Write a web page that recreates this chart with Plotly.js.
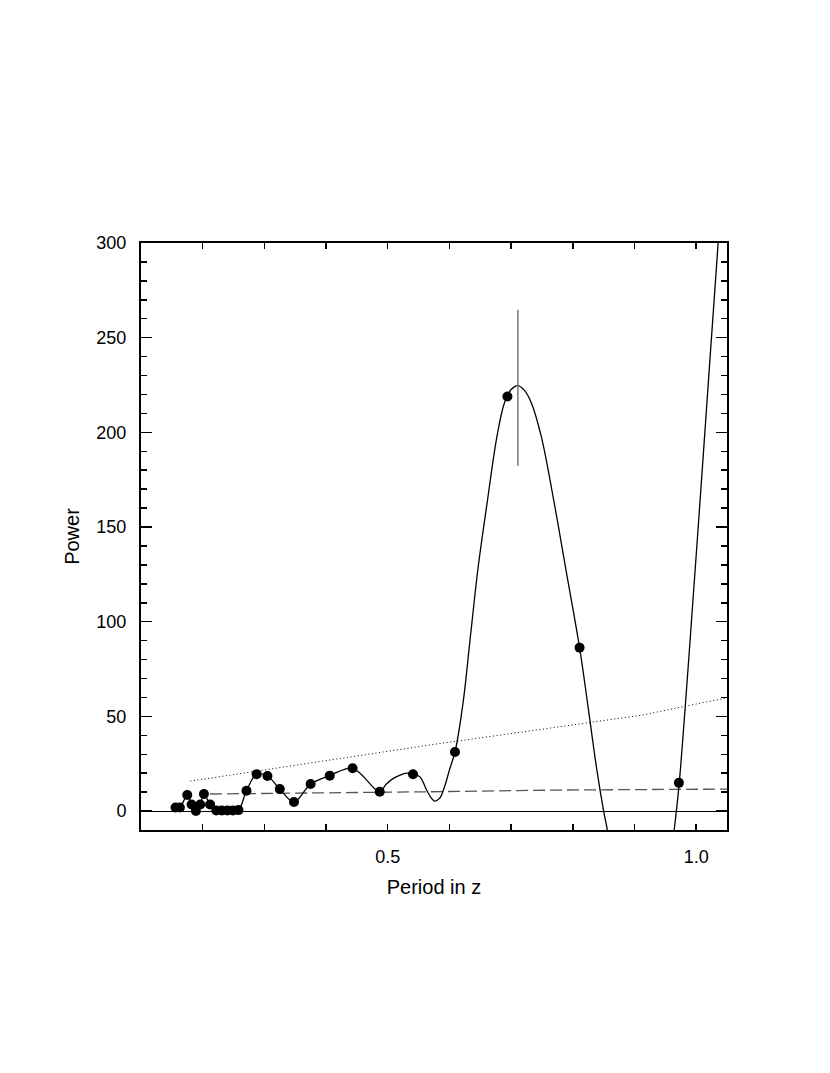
<!DOCTYPE html>
<html>
<head>
<meta charset="utf-8">
<script src="https://cdn.plot.ly/plotly-3.0.1.min.js"></script>
<style>html,body{margin:0;padding:0;background:#fff;}#chart{width:830px;height:1073px;}</style>
</head>
<body>
<div id="chart"></div>
<script>
// Data points (period in z, power)
const pointPeriod = [0.156, 0.163, 0.175, 0.182, 0.189, 0.196, 0.202, 0.212, 0.222, 0.231, 0.240, 0.249, 0.258,
  0.271, 0.2875, 0.305, 0.325, 0.348, 0.375, 0.406, 0.443, 0.487, 0.541, 0.609, 0.694, 0.811, 0.972];
const pointPower = [1.85, 1.85, 8.45, 3.43, 0.0, 3.43, 8.98, 3.43, 0.3, 0.3, 0.3, 0.3, 0.5,
  10.7, 19.5, 18.5, 11.6, 4.75, 14.3, 18.7, 22.6, 10.2, 19.4, 31.2, 218.9, 86.3, 14.9];

// Interpolating curve
const curvePeriod = [0.156, 0.163, 0.175, 0.182, 0.189, 0.196, 0.202, 0.212, 0.222, 0.231, 0.240, 0.249, 0.258,
  0.271, 0.2875, 0.305, 0.325, 0.348, 0.375, 0.406, 0.443, 0.487, 0.497, 0.508, 0.520, 0.531, 0.541,
  0.552, 0.563, 0.571, 0.576, 0.584, 0.592, 0.600, 0.609,
  0.622, 0.634, 0.646, 0.661, 0.677, 0.689, 0.700, 0.711, 0.722, 0.733, 0.749, 0.770, 0.789, 0.811, 0.824, 0.839, 0.850,
  0.856, 0.880, 0.910, 0.940, 0.9644, 0.9725, 0.9995, 1.0238, 1.0356, 1.050];
const curvePower = [1.85, 1.85, 8.45, 3.43, 0.0, 3.43, 8.98, 3.43, 0.3, 0.3, 0.3, 0.3, 0.5,
  10.7, 19.5, 18.5, 11.6, 4.75, 14.3, 18.7, 22.6, 10.2, 14.0, 17.0, 19.0, 20.0, 19.4,
  18.1, 11.1, 6.7, 5.3, 6.7, 12.8, 21.7, 31.2,
  56.9, 92.1, 127.3, 162.5, 197.7, 215.4, 222.6, 224.7, 222.0, 215.4, 197.7, 162.5, 127.3, 86.3, 56.9, 21.7, 0.0,
  -10, -60, -100, -70, -10, 14.6, 132.6, 245.3, 300, 370];

// Dotted threshold line
const dotPeriod = [0.180, 0.519, 0.568, 0.778, 0.875, 0.913, 0.984, 1.049];
const dotPower = [15.8, 32.8, 34.9, 44.5, 49.0, 50.7, 55.5, 59.7];

// Dashed line
const dashPeriod = [0.212, 0.519, 0.568, 0.778, 1.05];
const dashPower = [9.0, 9.9, 10.2, 11.1, 11.6];

// Peak with error bar
const peakPeriod = [0.711];
const peakPower = [223.5];
const peakErr = [41.2];

// Tick labels
const xTickVals = [0.2, 0.3, 0.4, 0.5, 0.6, 0.7, 0.8, 0.9, 1.0];
const xTickText = ['', '', '', '0.5', '', '', '', '', '1.0'];
const yTickVals = [0, 50, 100, 150, 200, 250, 300];

const font = "Liberation Sans, Arial, Helvetica, sans-serif";

const traces = [
  {x: dotPeriod, y: dotPower, mode: 'lines', line: {color: '#000', width: 1, dash: '1px,2.6px'}, hoverinfo: 'skip'},
  {x: dashPeriod, y: dashPower, mode: 'lines', line: {color: '#555', width: 1.3, dash: '12px,5px'}, hoverinfo: 'skip'},
  {x: curvePeriod, y: curvePower, mode: 'lines', line: {color: '#000', width: 1.3, shape: 'spline', smoothing: 1}},
  {x: peakPeriod, y: peakPower, mode: 'markers', marker: {size: 1, color: 'rgba(0,0,0,0)'},
   error_y: {type: 'data', array: peakErr, visible: true, color: '#777', thickness: 1.5, width: 0}},
  {x: pointPeriod, y: pointPower, mode: 'markers', marker: {size: 10, color: '#000'}}
];

const layout = {
  width: 830, height: 1073,
  showlegend: false,
  paper_bgcolor: '#fff', plot_bgcolor: '#fff',
  margin: {l: 141, r: 103, t: 243, b: 243, pad: 0},
  font: {family: font, color: '#000', size: 18},
  xaxis: {
    range: [0.1, 1.05], showgrid: false, zeroline: false,
    showline: true, linecolor: '#000', linewidth: 2, mirror: 'ticks',
    ticks: 'inside', ticklen: 6, tickwidth: 1.5, tickcolor: '#000',
    tickmode: 'array', tickvals: xTickVals, ticktext: xTickText,
    tickfont: {family: font, size: 18}, ticklabelstandoff: 9,
    title: {text: 'Period in z', font: {family: font, size: 20}, standoff: 14}
  },
  yaxis: {
    range: [-10, 300], showgrid: false,
    zeroline: true, zerolinecolor: '#000', zerolinewidth: 1,
    showline: true, linecolor: '#000', linewidth: 2, mirror: 'ticks',
    ticks: 'inside', ticklen: 11, tickwidth: 1.5, tickcolor: '#000',
    tickmode: 'array', tickvals: yTickVals,
    minor: {dtick: 10, ticks: 'inside', ticklen: 6, tickwidth: 1.5, tickcolor: '#000'},
    tickfont: {family: font, size: 18}, ticklabelstandoff: 9,
    title: {text: 'Power', font: {family: font, size: 20}, standoff: 11}
  }
};

Plotly.newPlot('chart', traces, layout, {staticPlot: true, displayModeBar: false});
</script>
</body>
</html>
